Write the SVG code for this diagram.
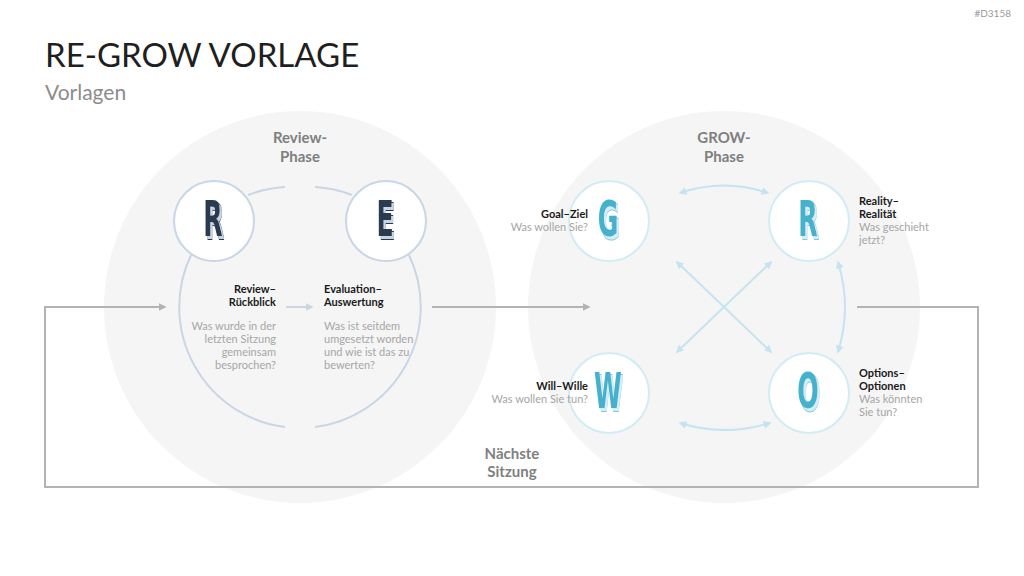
<svg xmlns="http://www.w3.org/2000/svg" width="1024" height="576" viewBox="0 0 1024 576">
<defs>
<marker id="ag" viewBox="0 0 10 10" refX="8" refY="5" markerWidth="4" markerHeight="4" orient="auto"><path d="M0,0 L10,5 L0,10 z" fill="#b3b3b3"/></marker>
<marker id="ar" viewBox="0 0 10 10" refX="8" refY="5" markerWidth="4" markerHeight="4" orient="auto"><path d="M0,0 L10,5 L0,10 z" fill="#c9d6e6"/></marker>
<marker id="ab" viewBox="0 0 10 10" refX="8" refY="5" markerWidth="4" markerHeight="4" orient="auto-start-reverse"><path d="M0,0 L10,5 L0,10 z" fill="#c3e4f0"/></marker>
<filter id="sdk" x="-30%" y="-20%" width="170%" height="150%">
<feOffset in="SourceAlpha" dx="3" dy="3" result="o"/>
<feMorphology in="o" operator="dilate" radius="0.7" result="od"/>
<feFlood flood-color="#2a3b50" result="c1"/>
<feComposite in="c1" in2="od" operator="in" result="edge"/>
<feFlood flood-color="#c6d4e4" result="c2"/>
<feComposite in="c2" in2="o" operator="in" result="fill"/>
<feMerge><feMergeNode in="edge"/><feMergeNode in="fill"/><feMergeNode in="SourceGraphic"/></feMerge>
</filter>
<filter id="sbl" x="-30%" y="-20%" width="170%" height="150%">
<feOffset in="SourceAlpha" dx="3" dy="3" result="o"/>
<feMorphology in="o" operator="dilate" radius="0.7" result="od"/>
<feFlood flood-color="#7cc8dc" result="c1"/>
<feComposite in="c1" in2="od" operator="in" result="edge"/>
<feFlood flood-color="#d4eef6" result="c2"/>
<feComposite in="c2" in2="o" operator="in" result="fill"/>
<feMerge><feMergeNode in="edge"/><feMergeNode in="fill"/><feMergeNode in="SourceGraphic"/></feMerge>
</filter>
</defs>
<style>
.t{font-family:"Lato","Liberation Sans",sans-serif}
.h{font-family:"Lato","Liberation Sans",sans-serif;font-weight:bold;font-size:15px;fill:#7f7f7f;text-anchor:middle}
.lb{font-family:"Lato","Liberation Sans",sans-serif;font-weight:bold;font-size:11px;fill:#1a1a1a}
.ds{font-family:"Lato","Liberation Sans",sans-serif;font-size:11px;fill:#a6a6a6}
.r{text-anchor:end}
.big{fill:#f5f5f5}
.node{fill:#ffffff;stroke-width:2}
.nr{stroke:#c9d6e6}
.ng{stroke:#d2ecf5}
.L{font-family:"DejaVu Sans Condensed","DejaVu Sans",sans-serif;font-weight:bold;font-size:50px;text-anchor:middle}
.dk{fill:#2a3b50;filter:url(#sdk)}
.bl{fill:#44b1cd;filter:url(#sbl)}
.gc{fill:none;stroke:#b3b3b3;stroke-width:2}
.rc{fill:none;stroke:#c9d6e6;stroke-width:2}
.bc{fill:none;stroke:#c3e4f0;stroke-width:2}
</style>
<rect width="1024" height="576" fill="#ffffff"/>
<text class="t" x="1011" y="17" font-size="10" fill="#999" text-anchor="end">#D3158</text>
<text class="t" x="45" y="67" font-size="33" fill="#1f1f1f">RE-GROW VORLAGE</text>
<text class="t" x="45" y="100" font-size="21" fill="#8c8c8c">Vorlagen</text>

<g id="review-phase">
<circle class="big" cx="300" cy="307" r="196"/>
<text class="h" x="300" y="143">Review-</text>
<text class="h" x="300" y="162">Phase</text>
</g>
<g id="grow-phase">
<circle class="big" cx="724" cy="307" r="196"/>
<text class="h" x="724" y="143">GROW-</text>
<text class="h" x="724" y="162">Phase</text>
</g>

<g id="connectors">
<path class="gc" d="M857,307 H978 V487 H45 V307 H165" marker-end="url(#ag)"/>
<path class="gc" d="M432,307 H589" marker-end="url(#ag)"/>
<path class="rc" d="M285,187 A121,121 0 0 0 248,195 M352,195 A121,121 0 0 0 315,187"/>
<path class="rc" d="M191,255 A121,121 0 0 0 285,427 M315,427 A121,121 0 0 0 409,255"/>
<path class="rc" d="M286,307 H312" marker-end="url(#ar)"/>
<path class="bc" d="M680,193 Q724,178 768,193" marker-start="url(#ab)" marker-end="url(#ab)"/>
<path class="bc" d="M680,423 Q724,437 770,423" marker-start="url(#ab)" marker-end="url(#ab)"/>
<path class="bc" d="M677,262 L771,352" marker-start="url(#ab)" marker-end="url(#ab)"/>
<path class="bc" d="M771,262 L677,352" marker-start="url(#ab)" marker-end="url(#ab)"/>
<path class="bc" d="M838,262 Q852,307 838,352" marker-start="url(#ab)" marker-end="url(#ab)"/>
</g>

<g id="node-review">
<circle class="node nr" cx="214" cy="221" r="40"/>
<text class="L dk" transform="translate(213,236) scale(0.56,1)">R</text>
<text class="lb r" x="276" y="293">Review–</text>
<text class="lb r" x="276" y="306">Rückblick</text>
<text class="ds r" x="276" y="330">Was wurde in der</text>
<text class="ds r" x="276" y="343">letzten Sitzung</text>
<text class="ds r" x="276" y="356">gemeinsam</text>
<text class="ds r" x="276" y="369">besprochen?</text>
</g>
<g id="node-evaluation">
<circle class="node nr" cx="386" cy="221" r="40"/>
<text class="L dk" transform="translate(385,236) scale(0.56,1)">E</text>
<text class="lb" x="324" y="293">Evaluation–</text>
<text class="lb" x="324" y="306">Auswertung</text>
<text class="ds" x="324" y="330">Was ist seitdem</text>
<text class="ds" x="324" y="343">umgesetzt worden</text>
<text class="ds" x="324" y="356">und wie ist das zu</text>
<text class="ds" x="324" y="369">bewerten?</text>
</g>
<g id="node-goal">
<circle class="node ng" cx="609" cy="221" r="40"/>
<text class="L bl" transform="translate(608,236) scale(0.56,1)">G</text>
<text class="lb r" x="588" y="218">Goal–Ziel</text>
<text class="ds r" x="588" y="231">Was wollen Sie?</text>
</g>
<g id="node-reality">
<circle class="node ng" cx="809" cy="221" r="40"/>
<text class="L bl" transform="translate(808,236) scale(0.56,1)">R</text>
<text class="lb" x="859" y="205">Reality–</text>
<text class="lb" x="859" y="218">Realität</text>
<text class="ds" x="859" y="231">Was geschieht</text>
<text class="ds" x="859" y="244">jetzt?</text>
</g>
<g id="node-will">
<circle class="node ng" cx="609" cy="393" r="40"/>
<text class="L bl" transform="translate(608,408) scale(0.56,1)">W</text>
<text class="lb r" x="588" y="390">Will–Wille</text>
<text class="ds r" x="588" y="403">Was wollen Sie tun?</text>
</g>
<g id="node-options">
<circle class="node ng" cx="809" cy="393" r="40"/>
<text class="L bl" transform="translate(808,408) scale(0.56,1)">O</text>
<text class="lb" x="859" y="377">Options–</text>
<text class="lb" x="859" y="390">Optionen</text>
<text class="ds" x="859" y="403">Was könnten</text>
<text class="ds" x="859" y="416">Sie tun?</text>
</g>
<g id="label-next">
<text class="h" x="512" y="459">Nächste</text>
<text class="h" x="512" y="477">Sitzung</text>
</g>
</svg>
